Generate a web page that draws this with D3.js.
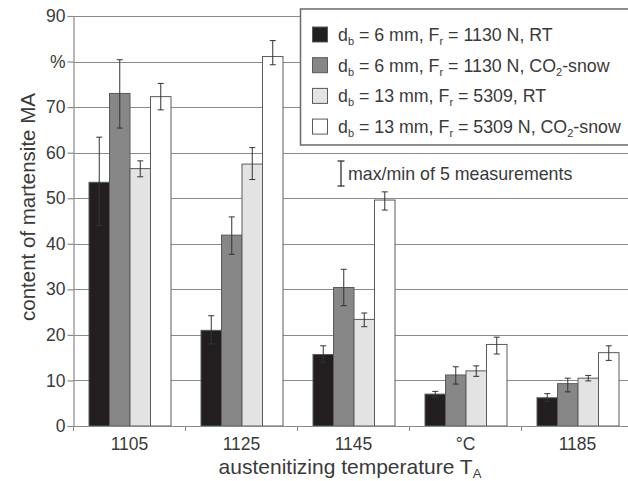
<!DOCTYPE html>
<html>
<head>
<meta charset="utf-8">
<script src="https://cdn.jsdelivr.net/npm/d3@7"></script>
<style>
  body { margin: 0; background: #fff; }
  text { font-family: "Liberation Sans", Arial, sans-serif; fill: #3a3a3a; }
</style>
</head>
<body>
<div id="chart"></div>
<script>
const categories = ["1105", "1125", "1145", "°C", "1185"];
const seriesKeys = ["rt6", "co6", "rt13", "co13"];
const colors = ["#231f20", "#878787", "#e3e3e3", "#ffffff"];

// bar heights (%)
const rt6 = [53.5, 21.0, 15.7, 7.0, 6.2];
const co6 = [73.0, 41.9, 30.4, 11.2, 9.3];
const rt13 = [56.5, 57.5, 23.4, 12.1, 10.5];
const co13 = [72.3, 81.1, 49.6, 17.9, 16.1];

// max/min of 5 measurements
const rt6Max = [63.4, 24.2, 17.6, 7.6, 7.1];
const rt6Min = [44.0, 18.0, 14.0, 6.4, 5.4];
const co6Max = [80.4, 45.9, 34.4, 13.0, 10.5];
const co6Min = [65.4, 37.7, 26.4, 9.2, 7.5];
const rt13Max = [58.2, 61.1, 24.8, 13.2, 11.1];
const rt13Min = [54.7, 54.1, 21.8, 10.9, 9.9];
const co13Max = [75.2, 84.6, 51.4, 19.5, 17.6];
const co13Min = [69.4, 79.3, 47.4, 15.8, 14.4];

const yTicks = [0, 10, 20, 30, 40, 50, 60, 70, 80, 90];

const values = [rt6, co6, rt13, co13];
const maxs = [rt6Max, co6Max, rt13Max, co13Max];
const mins = [rt6Min, co6Min, rt13Min, co13Min];

const width = 628;
const height = 481;
const left = 73.5;
const bottom = 426;

const svg = d3.select("#chart").append("svg")
  .attr("width", width)
  .attr("height", height);

const x = d3.scaleBand().domain(categories).range([left, left + 560]).padding(0);
const x1 = d3.scaleBand().domain(seriesKeys).range([15.5, 97.5]).padding(0);
const y = d3.scaleLinear().domain([0, 90]).range([bottom, 16]);

// grid lines
svg.append("g").selectAll("line")
  .data(yTicks.filter(d => d > 0))
  .enter().append("line")
  .attr("x1", left).attr("x2", width)
  .attr("y1", d => Math.round(y(d)) + 0.5)
  .attr("y2", d => Math.round(y(d)) + 0.5)
  .attr("stroke", "#8a8a8a")
  .attr("stroke-width", 1.2);

// y axis
const yAxis = d3.axisLeft(y)
  .tickValues(yTicks)
  .tickSize(6)
  .tickPadding(2)
  .tickFormat(d => d === 80 ? "%" : d);
const gy = svg.append("g").attr("transform", `translate(${left},0)`).call(yAxis);
gy.select(".domain").attr("stroke", "#8a8a8a").attr("stroke-width", 1.2);
gy.selectAll(".tick line").attr("stroke", "#8a8a8a").attr("stroke-width", 1.2);
gy.selectAll("text").style("font-size", "17.5px").attr("fill", "#444");

// bars
const groups = svg.append("g").selectAll("g")
  .data(categories)
  .enter().append("g")
  .attr("transform", d => `translate(${x(d)},0)`);

groups.selectAll("rect")
  .data((c, ci) => seriesKeys.map((k, si) => ({ k, si, v: values[si][ci] })))
  .enter().append("rect")
  .attr("x", d => x1(d.k))
  .attr("y", d => y(d.v))
  .attr("width", x1.bandwidth())
  .attr("height", d => bottom - y(d.v))
  .attr("fill", d => colors[d.si])
  .attr("stroke", "#5a5a5a")
  .attr("stroke-width", 1);

// error bars
const err = groups.selectAll("g.err")
  .data((c, ci) => seriesKeys.map((k, si) => ({ k, si, hi: maxs[si][ci], lo: mins[si][ci] })))
  .enter().append("g")
  .attr("class", "err")
  .attr("stroke", "#333")
  .attr("stroke-width", 1);
err.append("line")
  .attr("x1", d => x1(d.k) + x1.bandwidth() / 2)
  .attr("x2", d => x1(d.k) + x1.bandwidth() / 2)
  .attr("y1", d => y(d.hi)).attr("y2", d => y(d.lo));
err.append("line")
  .attr("x1", d => x1(d.k) + x1.bandwidth() / 2 - 3)
  .attr("x2", d => x1(d.k) + x1.bandwidth() / 2 + 3)
  .attr("y1", d => y(d.hi)).attr("y2", d => y(d.hi));
err.append("line")
  .attr("x1", d => x1(d.k) + x1.bandwidth() / 2 - 3)
  .attr("x2", d => x1(d.k) + x1.bandwidth() / 2 + 3)
  .attr("y1", d => y(d.lo)).attr("y2", d => y(d.lo));

// x axis
const xAxis = d3.axisBottom(x).tickSize(0).tickPadding(12);
const gx = svg.append("g").attr("transform", `translate(0,${bottom})`).call(xAxis);
gx.select(".domain").remove();
gx.selectAll("text").style("font-size", "17.5px").attr("fill", "#444");
svg.append("line")
  .attr("x1", left).attr("x2", width)
  .attr("y1", bottom + 0.5).attr("y2", bottom + 0.5)
  .attr("stroke", "#8a8a8a").attr("stroke-width", 1.2);
svg.append("g").selectAll("line")
  .data(categories)
  .enter().append("line")
  .attr("x1", d => x(d)).attr("x2", d => x(d))
  .attr("y1", bottom).attr("y2", bottom + 5)
  .attr("stroke", "#8a8a8a");

// axis titles
const xt = svg.append("text")
  .attr("x", 350).attr("y", 474)
  .attr("text-anchor", "middle")
  .style("font-size", "21px");
xt.append("tspan").text("austenitizing temperature T");
xt.append("tspan").attr("dy", 4).style("font-size", "13px").text("A");

svg.append("text")
  .attr("transform", "translate(35,207) rotate(-90)")
  .attr("text-anchor", "middle")
  .style("font-size", "20.5px")
  .text("content of martensite MA");

// legend
const legend = svg.append("g");
legend.append("rect")
  .attr("x", 300.5).attr("y", 9).attr("width", 340).attr("height", 136)
  .attr("fill", "#fff").attr("stroke", "#6a6a6a").attr("stroke-width", 1.5);

const legendRows = [
  [["d", 0], ["b", 1], [" = 6 mm, F", 0], ["r", 1], [" = 1130 N, RT", 0]],
  [["d", 0], ["b", 1], [" = 6 mm, F", 0], ["r", 1], [" = 1130 N, CO", 0], ["2", 1], ["-snow", 0]],
  [["d", 0], ["b", 1], [" = 13 mm, F", 0], ["r", 1], [" = 5309, RT", 0]],
  [["d", 0], ["b", 1], [" = 13 mm, F", 0], ["r", 1], [" = 5309 N, CO", 0], ["2", 1], ["-snow", 0]]
];

legendRows.forEach((parts, i) => {
  const top = 27 + i * 30.7;
  legend.append("rect")
    .attr("x", 312.5).attr("y", top).attr("width", 15).attr("height", 15)
    .attr("fill", colors[i]).attr("stroke", "#5a5a5a");
  const t = legend.append("text")
    .attr("x", 338).attr("y", top + 14)
    .style("font-size", "17.8px");
  let shifted = false;
  parts.forEach(([s, sub]) => {
    const ts = t.append("tspan").text(s);
    if (sub) {
      ts.attr("dy", 4).style("font-size", "11px");
      shifted = true;
    } else if (shifted) {
      ts.attr("dy", -4);
      shifted = false;
    }
  });
});

// max/min note
const note = svg.append("g").attr("stroke", "#333").attr("stroke-width", 1.3);
note.append("line").attr("x1", 341).attr("x2", 341).attr("y1", 161).attr("y2", 186);
note.append("line").attr("x1", 337.5).attr("x2", 344.5).attr("y1", 161).attr("y2", 161);
note.append("line").attr("x1", 337.5).attr("x2", 344.5).attr("y1", 186).attr("y2", 186);
svg.append("text")
  .attr("x", 348).attr("y", 180)
  .style("font-size", "17.8px")
  .text("max/min of 5 measurements");
</script>
</body>
</html>
